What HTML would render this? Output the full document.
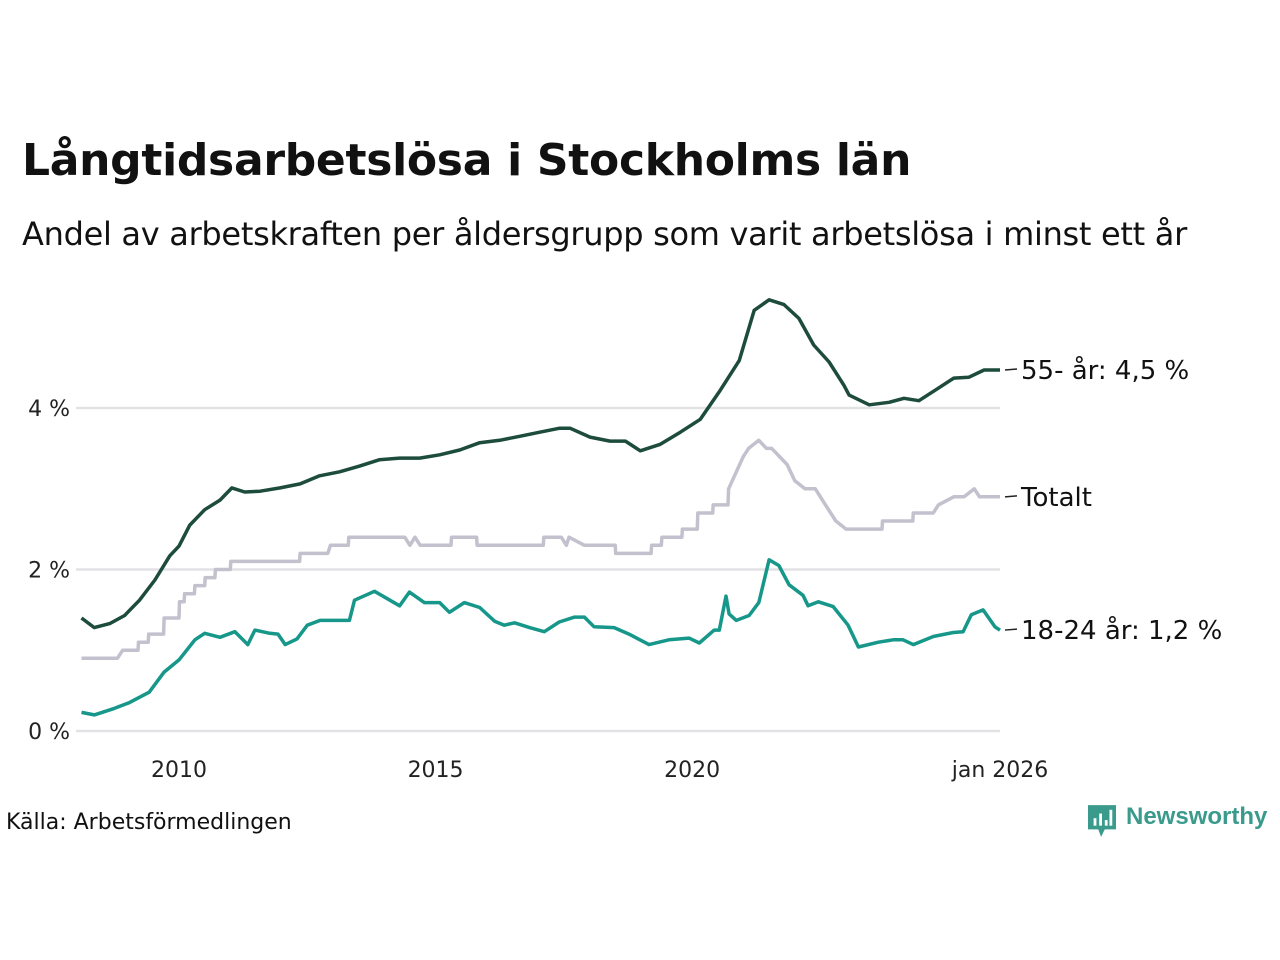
<!DOCTYPE html>
<html><head><meta charset="utf-8"><style>
body{margin:0;background:#fff;width:1280px;height:960px;overflow:hidden;font-family:"DejaVu Sans","Liberation Sans",sans-serif;color:#111}
#title{position:absolute;left:22px;top:135px;font-size:44px;font-weight:bold;letter-spacing:-0.3px}
#sub{position:absolute;left:22px;top:215px;font-size:32px;letter-spacing:-0.3px;white-space:nowrap}
#src{position:absolute;left:6px;top:810px;font-size:22px}
#logo{position:absolute;left:1088px;top:804px;font-size:24px;font-weight:bold;color:#3a9a8c;white-space:nowrap;width:190px}
</style></head><body>
<div id="title">Långtidsarbetslösa i Stockholms län</div>
<div id="sub">Andel av arbetskraften per åldersgrupp som varit arbetslösa i minst ett år</div>
<div id="src">Källa: Arbetsförmedlingen</div>
<div id="logo"><svg width="28" height="34" viewBox="0 0 30 34" style="vertical-align:middle;margin-right:10px"><path d="M0 0H30V26H18L14 34L11 26H0Z" fill="#3a9a8c"/><rect x="6" y="14" width="3" height="8" fill="#fff"/><rect x="12" y="9" width="3" height="13" fill="#fff"/><rect x="18" y="16" width="3" height="6" fill="#fff"/><rect x="23" y="5" width="3" height="17" fill="#fff"/></svg><span style="vertical-align:middle;position:relative;top:-4px;font-size:24px;font-family:'Liberation Sans',sans-serif">Newsworthy</span></div>
<svg id="chart" width="1280" height="960" style="position:absolute;left:0;top:0"></svg>
<script>
const yTicks=[0,2,4];
const yTickLabels=["0 %","2 %","4 %"];
const xTicks=[2010,2015,2020,2026];
const xTickLabels=["2010","2015","2020","jan 2026"];
const s55Years=[2008.1,2008.35,2008.65,2008.94,2009.23,2009.53,2009.82,2010.0,2010.21,2010.5,2010.8,2011.03,2011.28,2011.58,2011.97,2012.36,2012.74,2013.13,2013.52,2013.91,2014.3,2014.69,2015.08,2015.47,2015.86,2016.25,2016.64,2017.03,2017.42,2017.62,2018.01,2018.4,2018.7,2018.99,2019.38,2019.77,2020.16,2020.55,2020.92,2021.21,2021.5,2021.79,2022.08,2022.37,2022.67,2022.96,2023.06,2023.45,2023.84,2024.13,2024.42,2024.81,2025.1,2025.39,2025.69,2026.0];
const s55Values=[1.40,1.28,1.33,1.43,1.62,1.87,2.17,2.29,2.55,2.74,2.86,3.01,2.96,2.97,3.01,3.06,3.16,3.21,3.28,3.36,3.38,3.38,3.42,3.48,3.57,3.60,3.65,3.70,3.75,3.75,3.64,3.59,3.59,3.47,3.55,3.70,3.86,4.22,4.59,5.21,5.34,5.28,5.11,4.78,4.57,4.28,4.16,4.04,4.07,4.12,4.09,4.25,4.37,4.38,4.47,4.47];
const totYears=[2008.1,2008.8,2008.9,2009.2,2009.21,2009.4,2009.41,2009.7,2009.71,2010.0,2010.01,2010.1,2010.11,2010.3,2010.31,2010.5,2010.51,2010.7,2010.71,2011.0,2011.01,2011.29,2011.4,2012.35,2012.36,2012.9,2012.95,2013.0,2013.3,2013.31,2014.4,2014.5,2014.6,2014.7,2015.3,2015.31,2015.8,2015.81,2017.1,2017.11,2017.45,2017.55,2017.6,2017.9,2017.91,2018.5,2018.51,2019.2,2019.21,2019.4,2019.41,2019.8,2019.81,2020.1,2020.11,2020.4,2020.41,2020.7,2020.71,2021.0,2021.1,2021.3,2021.45,2021.55,2021.85,2022.0,2022.2,2022.4,2022.6,2022.8,2023.0,2023.1,2023.7,2023.71,2024.3,2024.31,2024.7,2024.8,2025.1,2025.3,2025.5,2025.6,2026.0];
const totValues=[0.9,0.9,1.0,1.0,1.1,1.1,1.2,1.2,1.4,1.4,1.6,1.6,1.7,1.7,1.8,1.8,1.9,1.9,2.0,2.0,2.1,2.1,2.1,2.1,2.2,2.2,2.3,2.3,2.3,2.4,2.4,2.3,2.4,2.3,2.3,2.4,2.4,2.3,2.3,2.4,2.4,2.3,2.4,2.3,2.3,2.3,2.2,2.2,2.3,2.3,2.4,2.4,2.5,2.5,2.7,2.7,2.8,2.8,3.0,3.4,3.5,3.6,3.5,3.5,3.3,3.1,3.0,3.0,2.8,2.6,2.5,2.5,2.5,2.6,2.6,2.7,2.7,2.8,2.9,2.9,3.0,2.9,2.9];
const y18Years=[2008.1,2008.35,2008.74,2009.03,2009.42,2009.71,2010.0,2010.31,2010.5,2010.8,2011.09,2011.34,2011.48,2011.77,2011.93,2012.07,2012.3,2012.5,2012.75,2013.13,2013.32,2013.42,2013.81,2014.11,2014.3,2014.49,2014.78,2015.08,2015.27,2015.56,2015.86,2016.15,2016.34,2016.54,2016.83,2017.12,2017.41,2017.71,2017.9,2018.09,2018.48,2018.77,2019.16,2019.55,2019.94,2020.14,2020.43,2020.53,2020.66,2020.72,2020.86,2021.11,2021.3,2021.5,2021.69,2021.89,2022.16,2022.26,2022.46,2022.75,2023.04,2023.24,2023.63,2023.92,2024.11,2024.31,2024.7,2025.09,2025.28,2025.44,2025.67,2025.9,2026.0];
const y18Values=[0.23,0.20,0.28,0.35,0.48,0.73,0.88,1.13,1.21,1.16,1.23,1.07,1.25,1.21,1.20,1.07,1.14,1.31,1.37,1.37,1.37,1.62,1.73,1.62,1.55,1.72,1.59,1.59,1.47,1.59,1.53,1.36,1.31,1.34,1.28,1.23,1.35,1.41,1.41,1.29,1.28,1.20,1.07,1.13,1.15,1.09,1.25,1.25,1.67,1.45,1.37,1.43,1.59,2.12,2.05,1.81,1.68,1.55,1.60,1.54,1.31,1.04,1.10,1.13,1.13,1.07,1.17,1.22,1.23,1.44,1.50,1.29,1.25];
const NS="http://www.w3.org/2000/svg";
const svg=document.getElementById('chart');
const X=yr=>179+(yr-2010)*(1000-179)/16;
const Y=v=>731-v*80.75;
function mk(tag,attrs){const e=document.createElementNS(NS,tag);for(const k in attrs)e.setAttribute(k,attrs[k]);svg.appendChild(e);return e;}
yTicks.forEach((t,i)=>{
  const g=mk('line',{x1:76,x2:1000,y1:Y(t),y2:Y(t),stroke:'#e2e2e6','stroke-width':2.5});
  
  
  const l=mk('text',{x:70,y:Y(t)+8,'text-anchor':'end','font-size':22,fill:'#222','font-family':'DejaVu Sans, sans-serif'});
  l.textContent=yTickLabels[i];
  
  
});
xTicks.forEach((t,i)=>{
  const l=mk('text',{x:X(t),y:777,'text-anchor':'middle','font-size':22,fill:'#222','font-family':'DejaVu Sans, sans-serif'});
  l.textContent=xTickLabels[i];
  
  
});
function line(xs,vs,color,name,label){
  const d=xs.map((x,i)=>(i?'L':'M')+X(x).toFixed(1)+','+Y(vs[i]).toFixed(1)).join('');
  const p=mk('path',{d:d,fill:'none',stroke:color,'stroke-width':3.5,'stroke-linejoin':'round'});
  
  
  const ly=Y(vs[vs.length-1]);
  const t=mk('line',{x1:1005,x2:1017,y1:ly,y2:ly-1,stroke:'#222','stroke-width':1.5});
  
  
  const tx=mk('text',{x:1021,y:ly+9,'font-size':26,fill:'#111','font-family':'DejaVu Sans, sans-serif'});
  tx.textContent=label;
  
  
}
line(totYears,totValues,'#c3c1cd','line-totalt','Totalt');
line(y18Years,y18Values,'#16978a','line-18-24','18-24 år: 1,2 %');
line(s55Years,s55Values,'#1d4c3c','line-55','55- år: 4,5 %');
</script>
</body></html>
